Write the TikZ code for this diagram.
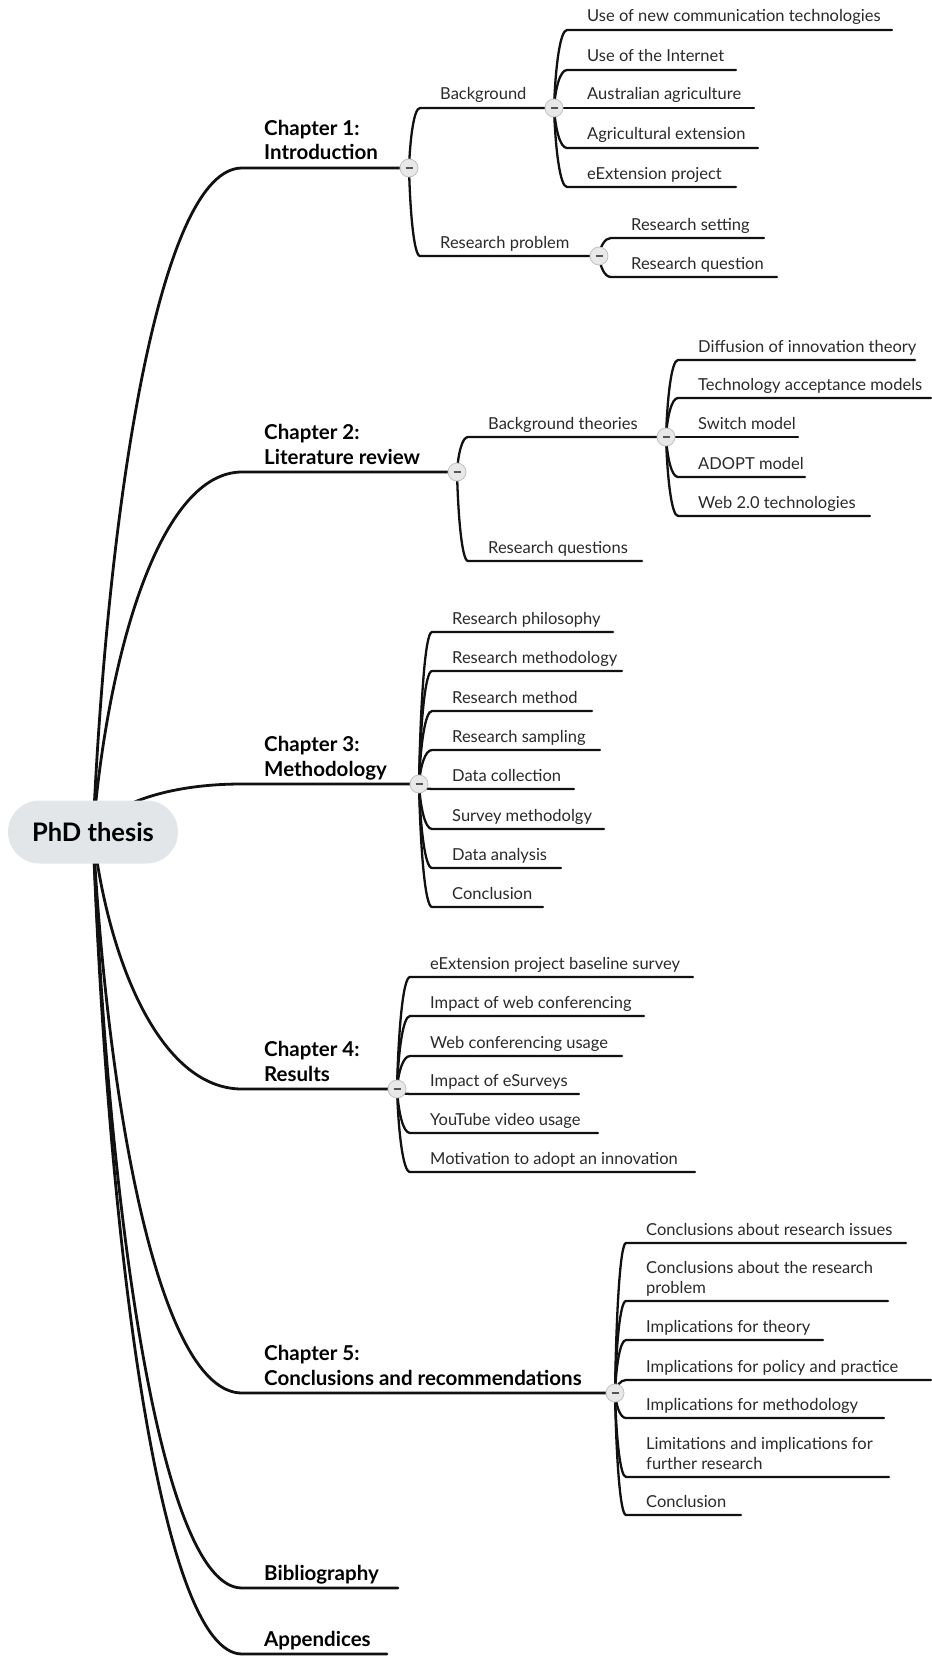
\documentclass[tikz,border=0pt]{standalone}
\usepackage{fontspec}
\setmainfont{Lato}
\usetikzlibrary{calc}

\definecolor{linecol}{HTML}{111111}
\definecolor{leaftext}{HTML}{2A2A2A}
\definecolor{rootfill}{HTML}{E3E6E9}
\definecolor{knobfill}{HTML}{E8E8E8}
\definecolor{knobedge}{HTML}{C2C2C2}
\definecolor{knobmark}{HTML}{555555}

\pgfdeclarelayer{bg}
\pgfsetlayers{bg,main}

\tikzset{
  leaf/.style={inner sep=0, text=leaftext, anchor=base west,
    font=\fontsize{16.5}{20}\selectfont},
  chap/.style={inner sep=0, text=black, anchor=base west,
    font=\bfseries\fontsize{20.5}{24.5}\selectfont},
  rootbox/.style={rectangle, rounded corners=31.5, minimum width=170,
    minimum height=63, inner sep=0, fill=rootfill,
    font=\bfseries\fontsize{25.5}{30}\selectfont},
  knob/.style={circle, inner sep=0, minimum size=18, fill=knobfill,
    draw=knobedge, line width=0.8},
  trunk/.style={draw=linecol, line width=2.8, line cap=round},
  twig/.style={draw=linecol, line width=2.3, line cap=round},
}

% minus mark inside a collapse knob
\newcommand\mmminus{\textcolor{knobmark}{\rule{7pt}{2pt}}}

% curved connector: start, corner (end of the bend), end of the underline
\newcommand\mmcurve[4]{%
  \begin{pgfonlayer}{bg}
  \draw[#1] let \p1=(#2), \p2=(#3) in
    (\p1) .. controls ({\x1+0.1*(\x2-\x1)},{\y1+0.5*(\y2-\y1)})
             and ({\x2-0.55*(\x2-\x1)},{\y2}) .. (\p2) -- (#4);
  \end{pgfonlayer}}

% branch: name, parent knob, corner x, underline y, underline end, text
\newcommand\mmleaf[6]{%
  \coordinate (#1k) at (#3,#4);
  \node[leaf] (#1) at ($(#1k)+(20,-8)$)
    {\begin{tabular}[b]{@{}l@{}}#6\end{tabular}};
  \mmcurve{twig}{#2.center}{#1k}{#5}}

% chapter: name, underline y, underline end, text
\newcommand\mmchap[4]{%
  \coordinate (#1k) at (242,#2);
  \node[chap] (#1) at ($(#1k)+(22,-8)$)
    {\begin{tabular}[b]{@{}l@{}}#4\end{tabular}};
  \mmcurve{trunk}{root.center}{#1k}{#3}}

\begin{document}
\begin{tikzpicture}[x=1pt,y=-1pt]
\begin{pgfonlayer}{bg}
\fill[white] (0,0) rectangle (931,1664);
\end{pgfonlayer}
\useasboundingbox (0,0) rectangle (931,1664);

% central topic
\node[rootbox] (root) at (93,832) {PhD thesis};

% collapse knobs
\node[knob] (c1)  at (409,168)  {\mmminus};
\node[knob] (cBg) at (554,108)  {\mmminus};
\node[knob] (cRP) at (599,256)  {\mmminus};
\node[knob] (c2)  at (457,472)  {\mmminus};
\node[knob] (cBT) at (666,437)  {\mmminus};
\node[knob] (c3)  at (419,784)  {\mmminus};
\node[knob] (c4)  at (397,1089) {\mmminus};
\node[knob] (c5)  at (615,1393) {\mmminus};

% chapters
\mmchap{ch1}{168}{c1.center}{Chapter 1:\\Introduction}
\mmchap{ch2}{472}{c2.center}{Chapter 2:\\Literature review}
\mmchap{ch3}{784}{c3.center}{Chapter 3:\\Methodology}
\mmchap{ch4}{1089}{c4.center}{Chapter 4:\\Results}
\mmchap{ch5}{1393}{c5.center}{Chapter 5:\\Conclusions and recommendations}
\mmchap{bib}{1588}{398,1588}{Bibliography}
\mmchap{app}{1654}{387,1654}{Appendices}

% Chapter 1
\mmleaf{bg}{c1}{420}{108}{cBg.center}{Background}
\mmleaf{rp}{c1}{420}{256}{cRP.center}{Research problem}
\mmleaf{bg1}{cBg}{567}{30}{892,30}{Use of new communication technologies}
\mmleaf{bg2}{cBg}{567}{70}{736,70}{Use of the Internet}
\mmleaf{bg3}{cBg}{567}{108}{754,108}{Australian agriculture}
\mmleaf{bg4}{cBg}{567}{148}{758,148}{Agricultural extension}
\mmleaf{bg5}{cBg}{567}{187}{736,187}{eExtension project}
\mmleaf{rp1}{cRP}{611}{238}{764,238}{Research setting}
\mmleaf{rp2}{cRP}{611}{277}{777,277}{Research question}

% Chapter 2
\mmleaf{bt}{c2}{468}{437}{cBT.center}{Background theories}
\mmleaf{rq}{c2}{468}{561}{642,561}{Research questions}
\mmleaf{bt1}{cBT}{678}{360}{915,360}{Diffusion of innovation theory}
\mmleaf{bt2}{cBT}{678}{398}{931,398}{Technology acceptance models}
\mmleaf{bt3}{cBT}{678}{437}{798,437}{Switch model}
\mmleaf{bt4}{cBT}{678}{477}{805,477}{ADOPT model}
\mmleaf{bt5}{cBT}{678}{516}{870,516}{Web 2.0 technologies}

% Chapter 3
\mmleaf{m1}{c3}{432}{632}{613,632}{Research philosophy}
\mmleaf{m2}{c3}{432}{671}{622,671}{Research methodology}
\mmleaf{m3}{c3}{432}{711}{592,711}{Research method}
\mmleaf{m4}{c3}{432}{750}{600,750}{Research sampling}
\mmleaf{m5}{c3}{432}{789}{574,789}{Data collection}
\mmleaf{m6}{c3}{432}{829}{604,829}{Survey methodolgy}
\mmleaf{m7}{c3}{432}{868}{561,868}{Data analysis}
\mmleaf{m8}{c3}{432}{907}{543,907}{Conclusion}

% Chapter 4
\mmleaf{r1}{c4}{410}{977}{693,977}{eExtension project baseline survey}
\mmleaf{r2}{c4}{410}{1016}{644,1016}{Impact of web conferencing}
\mmleaf{r3}{c4}{410}{1056}{622,1056}{Web conferencing usage}
\mmleaf{r4}{c4}{410}{1094}{579,1094}{Impact of eSurveys}
\mmleaf{r5}{c4}{410}{1133}{598,1133}{YouTube video usage}
\mmleaf{r6}{c4}{410}{1172}{695,1172}{Motivation to adopt an innovation}

% Chapter 5
\mmleaf{cc1}{c5}{626}{1243}{906,1243}{Conclusions about research issues}
\mmleaf{cc2}{c5}{626}{1301}{888,1301}{Conclusions about the research\\problem}
\mmleaf{cc3}{c5}{626}{1340}{823,1340}{Implications for theory}
\mmleaf{cc4}{c5}{626}{1380}{931,1380}{Implications for policy and practice}
\mmleaf{cc5}{c5}{626}{1418}{884,1418}{Implications for methodology}
\mmleaf{cc6}{c5}{626}{1477}{889,1477}{Limitations and implications for\\further research}
\mmleaf{cc7}{c5}{626}{1515}{741,1515}{Conclusion}
\end{tikzpicture}
\end{document}
